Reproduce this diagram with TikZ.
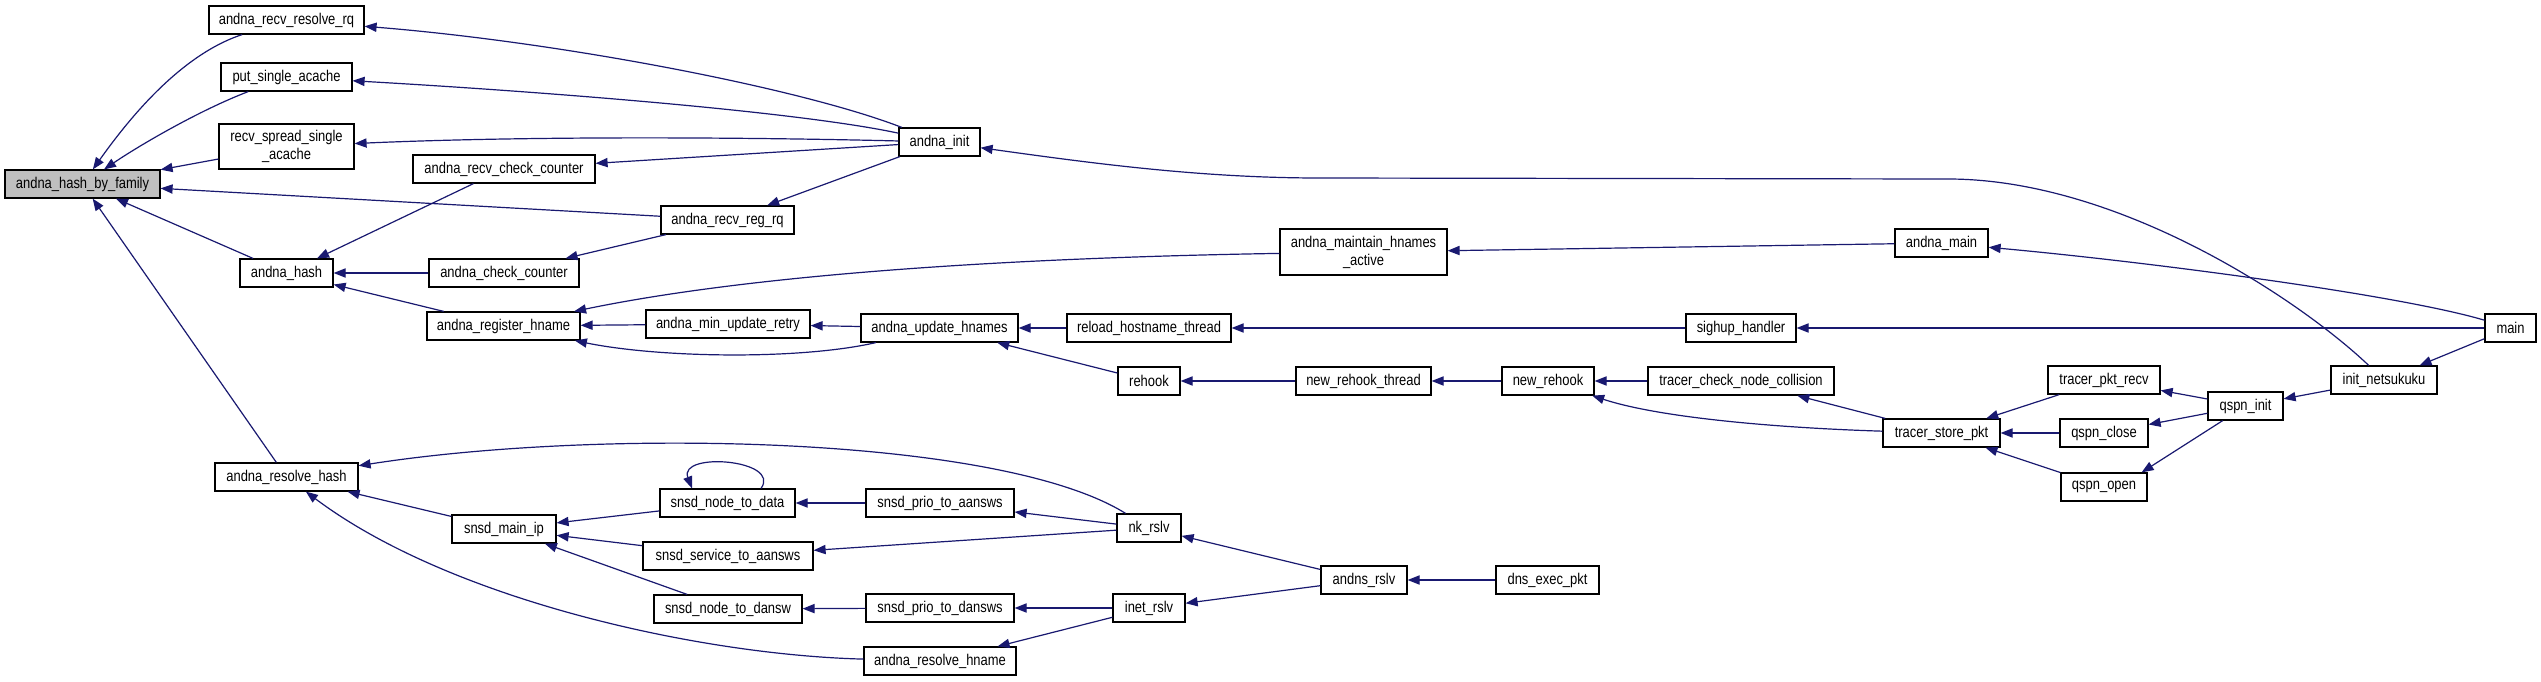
\documentclass[tikz,border=0pt]{standalone}
\usepackage{fontspec}
\setmainfont[FakeStretch=0.83]{Liberation Sans}
\usetikzlibrary{arrows.meta}
\definecolor{edgeblue}{HTML}{191970}
\definecolor{mainfill}{HTML}{BFBFBF}
\newcommand\FN[7][]{\node[fn,#1,minimum width={(#5-#3)*0.5pt},minimum height={(#6-#4)*0.5pt}] (#2) at ({(#3+#5)/2},{(#4+#6)/2}) {#7};}
\begin{document}
\begin{tikzpicture}[x=0.5pt,y=-0.5pt,
  fn/.style={draw=black,line width=0.6pt,fill=white,inner sep=0pt,rectangle,align=center,
    font=\fontsize{7.8}{9}\selectfont},
  edge/.style={draw=edgeblue,line width=0.6pt,-{Triangle[length=6pt,width=4.6pt]}}]
\useasboundingbox[fill=white] (0,0) rectangle (2541,681);
% nodes
\FN[fill=mainfill]{hbf}{5}{170}{160}{198}{andna\_hash\_by\_family}
\FN{rrr}{209}{6}{364}{34}{andna\_recv\_resolve\_rq}
\FN{psa}{221}{63}{352}{91}{put\_single\_acache}
\FN{rss}{219}{124}{354}{169}{recv\_spread\_single\\\_acache}
\FN{rcc}{413}{155}{595}{183}{andna\_recv\_check\_counter}
\FN{ah}{240}{259}{333}{287}{andna\_hash}
\FN{acc}{429}{259}{579}{287}{andna\_check\_counter}
\FN{arh}{427}{312}{580}{340}{andna\_register\_hname}
\FN{arhash}{215}{463}{358}{491}{andna\_resolve\_hash}
\FN{smi}{452}{515}{556}{543}{snsd\_main\_ip}
\FN{ainit}{899}{128}{980}{156}{andna\_init}
\FN{rrq}{661}{206}{794}{234}{andna\_recv\_reg\_rq}
\FN{amur}{646}{310}{810}{338}{andna\_min\_update\_retry}
\FN{auh}{861}{314}{1018}{342}{andna\_update\_hnames}
\FN{rht}{1067}{314}{1231}{342}{reload\_hostname\_thread}
\FN{rehook}{1118}{367}{1180}{395}{rehook}
\FN{sntd}{660}{489}{795}{517}{snsd\_node\_to\_data}
\FN{sptaa}{866}{489}{1014}{517}{snsd\_prio\_to\_aansws}
\FN{nk}{1117}{514}{1181}{542}{nk\_rslv}
\FN{ssta}{643}{542}{813}{570}{snsd\_service\_to\_aansws}
\FN{sntdw}{654}{595}{802}{623}{snsd\_node\_to\_dansw}
\FN{sptd}{866}{594}{1014}{622}{snsd\_prio\_to\_dansws}
\FN{inet}{1113}{594}{1185}{622}{inet\_rslv}
\FN{arhn}{864}{647}{1016}{675}{andna\_resolve\_hname}
\FN{amha}{1280}{229}{1447}{275}{andna\_maintain\_hnames\\\_active}
\FN{sighup}{1686}{314}{1796}{342}{sighup\_handler}
\FN{amain}{1895}{229}{1988}{257}{andna\_main}
\FN{main}{2485}{314}{2536}{342}{main}
\FN{nrt}{1296}{367}{1431}{395}{new\_rehook\_thread}
\FN{nr}{1502}{367}{1594}{395}{new\_rehook}
\FN{tcnc}{1648}{367}{1834}{395}{tracer\_check\_node\_collision}
\FN{andns}{1321}{566}{1407}{594}{andns\_rslv}
\FN{dep}{1496}{566}{1599}{594}{dns\_exec\_pkt}
\FN{tsp}{1883}{419}{2000}{447}{tracer\_store\_pkt}
\FN{tpr}{2048}{366}{2160}{394}{tracer\_pkt\_recv}
\FN{qc}{2060}{419}{2148}{447}{qspn\_close}
\FN{qo}{2061}{473}{2147}{501}{qspn\_open}
\FN{qi}{2208}{392}{2283}{420}{qspn\_init}
\FN{inn}{2331}{366}{2437}{394}{init\_netsukuku}
% edges into andna_hash_by_family
\draw[edge] (rrr) .. controls (180,55) and (128,120) .. (hbf);
\draw[edge] (psa) .. controls (200,110) and (140,145) .. (hbf);
\draw[edge] (rss) -- (hbf);
\draw[edge] (rrq) -- (hbf);
\draw[edge] (ah) -- (hbf);
\draw[edge] (arhash) -- (hbf);
% andna_init
\draw[edge] (ainit) .. controls (800,88) and (560,42) .. (rrr);
\draw[edge] (ainit) .. controls (800,112) and (550,92) .. (psa);
\draw[edge] (ainit) .. controls (780,138) and (550,135) .. (rss);
\draw[edge] (ainit) -- (rcc);
\draw[edge] (ainit) -- (rrq);
% andna_hash
\draw[edge] (rcc) -- (ah);
\draw[edge] (acc) -- (ah);
\draw[edge] (arh) -- (ah);
\draw[edge] (rrq) -- (acc);
% register hname
\draw[edge] (amur) -- (arh);
\draw[edge] (auh) -- (amur);
\draw[edge] (auh) .. controls (800,360) and (660,358) .. (arh);
\draw[edge] (amha) .. controls (1000,258) and (750,275) .. (arh);
\draw[edge] (amain) -- (amha);
\draw[edge] (main) .. controls (2400,295) and (2150,262) .. (amain);
\draw[edge] (main) -- (sighup);
\draw[edge] (sighup) -- (rht);
\draw[edge] (rht) -- (auh);
\draw[edge] (rehook) -- (auh);
\draw[edge] (nrt) -- (rehook);
\draw[edge] (nr) -- (nrt);
\draw[edge] (tcnc) -- (nr);
\draw[edge] (tsp) .. controls (1780,428) and (1660,418) .. (nr);
\draw[edge] (tsp) -- (tcnc);
\draw[edge] (tpr) -- (tsp);
\draw[edge] (qc) -- (tsp);
\draw[edge] (qo) -- (tsp);
\draw[edge] (qi) -- (tpr);
\draw[edge] (qi) -- (qc);
\draw[edge] (qi) -- ([xshift=-3pt]qo.north east);
\draw[edge] (inn) -- (qi);
\draw[edge] (main) -- (inn);
\draw[edge] (inn) .. controls (2300,300) and (2120,180) .. (1950,179) -- (1320,178)
  .. controls (1200,178) and (1090,163) .. (ainit);
% resolve hash
\draw[edge] (nk) .. controls (1000,435) and (600,428) .. (arhash);
\draw[edge] (smi) -- (arhash);
\draw[edge] (arhn) .. controls (700,655) and (450,600) .. (arhash);
\draw[edge] (sntd) -- (smi);
\draw[edge] (ssta) -- (smi);
\draw[edge] (sntdw) -- (smi);
\draw[edge] ([xshift=16.75pt]sntd.north) .. controls +(10.5pt,14.5pt) and +(-7pt,18.5pt) .. ([xshift=-17.75pt]sntd.north);
\draw[edge] (sptaa) -- (sntd);
\draw[edge] (nk) -- (sptaa);
\draw[edge] (nk) -- (ssta);
\draw[edge] (sptd) -- (sntdw);
\draw[edge] (inet) -- (sptd);
\draw[edge] (inet) -- (arhn);
\draw[edge] (andns) -- (nk);
\draw[edge] (andns) -- (inet);
\draw[edge] (dep) -- (andns);
\end{tikzpicture}
\end{document}
